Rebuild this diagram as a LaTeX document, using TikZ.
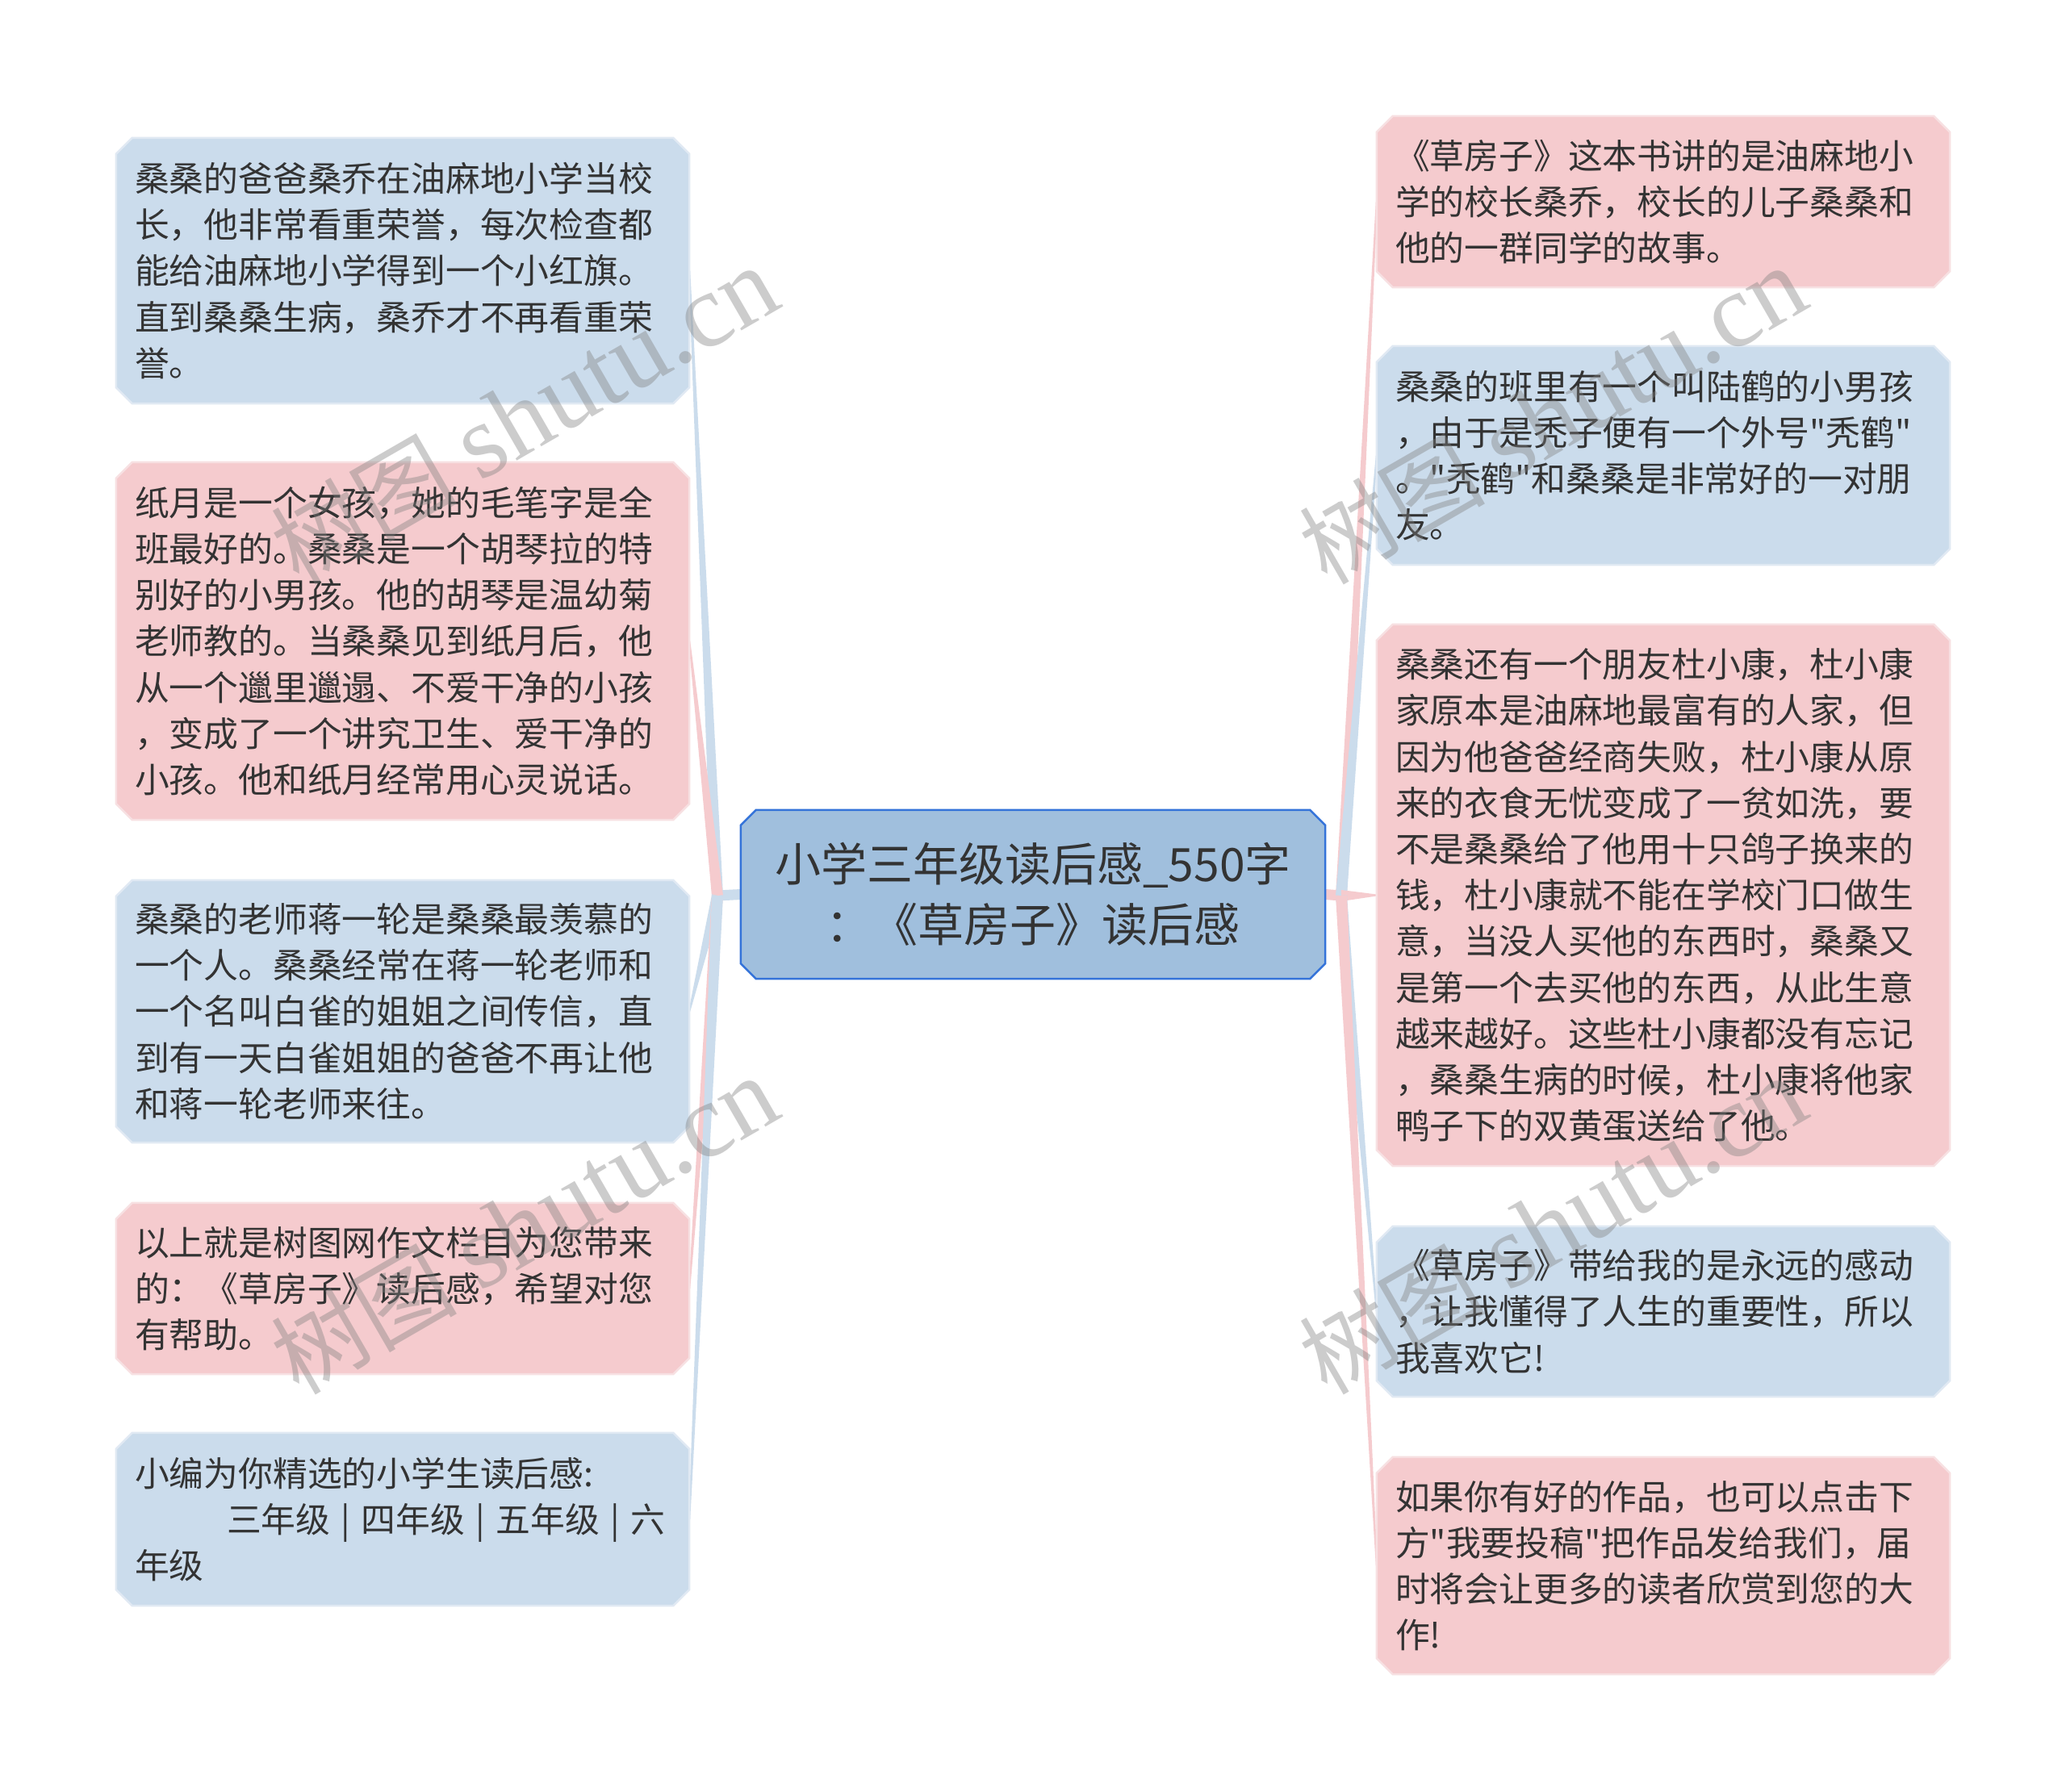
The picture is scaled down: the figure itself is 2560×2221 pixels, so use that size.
\documentclass[tikz,border=0pt]{standalone}
\usepackage{fontspec}
\newfontfamily\cjk{Noto Sans CJK SC}
\newfontfamily\wmserif{Liberation Serif}
\usetikzlibrary{calc}
\definecolor{leafblue}{RGB}{203,220,236}
\definecolor{leafpink}{RGB}{245,203,206}
\definecolor{leafblueline}{RGB}{224,233,243}
\definecolor{leafpinkline}{RGB}{247,224,226}
\definecolor{rootfill}{RGB}{160,191,221}
\definecolor{rootdraw}{RGB}{52,115,217}
\definecolor{txt}{RGB}{51,51,51}
\pgfdeclarelayer{bg}\pgfdeclarelayer{boxes}\pgfdeclarelayer{fg}
\pgfsetlayers{bg,boxes,main,fg}
% chamfered outline: node, chamfer, fill, draw, line width
\newcommand\chbox[5]{%
  \filldraw[fill=#3,draw=#4,line width=#5]
    ($(#1.north west)+(#2,0)$) -- ($(#1.north east)+(-#2,0)$) --
    ($(#1.north east)+(0,#2)$) -- ($(#1.south east)+(0,-#2)$) --
    ($(#1.south east)+(-#2,0)$) -- ($(#1.south west)+(#2,0)$) --
    ($(#1.south west)+(0,-#2)$) -- ($(#1.north west)+(0,#2)$) -- cycle;}
% tapered connector: from, to, colour
\newcommand\taper[3]{%
  \fill[#3] ($(#1)!7pt!90:(#2)$) -- ($(#2)!1pt!-90:(#1)$) --
    ($(#2)!1pt!90:(#1)$) -- ($(#1)!7pt!-90:(#2)$) -- cycle;}
\newcommand\gradesep{\makebox[38.5pt]{|}}
\newcommand\wmtext{{\cjk\fontsize{115pt}{115pt}\selectfont 树图}\hspace{28pt}{\wmserif\fontsize{130pt}{130pt}\selectfont shutu.cn}}
\tikzset{
  leaf/.style={inner xsep=23pt, inner ysep=0pt, text width=664pt, align=left,
    font=\cjk\fontsize{42.8pt}{57.2pt}\selectfont, text=txt},
  root/.style={inner sep=0pt, minimum width=724pt, minimum height=209pt,
    align=center, font=\cjk\fontsize{57pt}{75pt}\selectfont, text=txt},
  wm/.style={rotate=30, text=black!50, opacity=0.4, inner sep=0pt}
}
\begin{document}
\begin{tikzpicture}[x=1pt,y=-1pt]
\useasboundingbox (0,0) rectangle (2560,2221);
\begin{pgfonlayer}{bg}
\fill[white] (0,0) rectangle (2560,2221);
\end{pgfonlayer}

\node[root] (root) at (1280,1108.5) {小学三年级读后感\_550字\\：《草房子》读后感};

\node[leaf, minimum height=329pt] (L1) at (499,335.5) {桑桑的爸爸桑乔在油麻地小学当校\\长，他非常看重荣誉，每次检查都\\能给油麻地小学得到一个小红旗。\\直到桑桑生病，桑乔才不再看重荣\\誉。};
\node[leaf, minimum height=443pt] (L2) at (499,794.5) {纸月是一个女孩，她的毛笔字是全\\班最好的。桑桑是一个胡琴拉的特\\别好的小男孩。他的胡琴是温幼菊\\老师教的。当桑桑见到纸月后，他\\从一个邋里邋遢、不爱干净的小孩\\，变成了一个讲究卫生、爱干净的\\小孩。他和纸月经常用心灵说话。};
\node[leaf, minimum height=325pt] (L3) at (499,1253.5) {桑桑的老师蒋一轮是桑桑最羡慕的\\一个人。桑桑经常在蒋一轮老师和\\一个名叫白雀的姐姐之间传信，直\\到有一天白雀姐姐的爸爸不再让他\\和蒋一轮老师来往。};
\node[leaf, minimum height=212pt] (L4) at (499,1597) {以上就是树图网作文栏目为您带来\\的：《草房子》读后感，希望对您\\有帮助。};
\node[leaf, minimum height=214pt] (L5) at (499,1883) {小编为你精选的小学生读后感:\\\hspace*{114pt}三年级\gradesep 四年级\gradesep 五年级\gradesep 六\\年级};

\node[leaf, minimum height=212pt] (R1) at (2061,250) {《草房子》这本书讲的是油麻地小\\学的校长桑乔，校长的儿子桑桑和\\他的一群同学的故事。};
\node[leaf, minimum height=271pt] (R2) at (2061,564.5) {桑桑的班里有一个叫陆鹤的小男孩\\，由于是秃子便有一个外号"秃鹤"\\。"秃鹤"和桑桑是非常好的一对朋\\友。};
\node[leaf, minimum height=671pt] (R3) at (2061,1109.5) {桑桑还有一个朋友杜小康，杜小康\\家原本是油麻地最富有的人家，但\\因为他爸爸经商失败，杜小康从原\\来的衣食无忧变成了一贫如洗，要\\不是桑桑给了他用十只鸽子换来的\\钱，杜小康就不能在学校门口做生\\意，当没人买他的东西时，桑桑又\\是第一个去买他的东西，从此生意\\越来越好。这些杜小康都没有忘记\\，桑桑生病的时候，杜小康将他家\\鸭子下的双黄蛋送给了他。};
\node[leaf, minimum height=211pt] (R4) at (2061,1625.5) {《草房子》带给我的是永远的感动\\，让我懂得了人生的重要性，所以\\我喜欢它!};
\node[leaf, minimum height=269pt] (R5) at (2061,1940.5) {如果你有好的作品，也可以点击下\\方"我要投稿"把作品发给我们，届\\时将会让更多的读者欣赏到您的大\\作!};

\coordinate (jl) at (889,1110);
\coordinate (jr) at (1662,1110);

\begin{pgfonlayer}{boxes}
\chbox{root}{19}{rootfill}{rootdraw}{2.5pt}
\chbox{L1}{20}{leafblue}{leafblueline}{2.5pt}
\chbox{L2}{20}{leafpink}{leafpinkline}{2.5pt}
\chbox{L3}{20}{leafblue}{leafblueline}{2.5pt}
\chbox{L4}{20}{leafpink}{leafpinkline}{2.5pt}
\chbox{L5}{20}{leafblue}{leafblueline}{2.5pt}
\chbox{R1}{20}{leafpink}{leafpinkline}{2.5pt}
\chbox{R2}{20}{leafblue}{leafblueline}{2.5pt}
\chbox{R3}{20}{leafpink}{leafpinkline}{2.5pt}
\chbox{R4}{20}{leafblue}{leafblueline}{2.5pt}
\chbox{R5}{20}{leafpink}{leafpinkline}{2.5pt}
\end{pgfonlayer}

\begin{pgfonlayer}{bg}
\draw[leafblue, line width=13pt] (root.west) -- (jl);
\draw[leafpink, line width=13pt] (root.east) -- (jr);
\taper{jl}{L1.east}{leafblue}
\taper{jl}{L2.east}{leafpink}
\taper{jl}{L3.east}{leafblue}
\taper{jl}{L4.east}{leafpink}
\taper{jl}{L5.east}{leafblue}
\taper{jr}{R1.west}{leafpink}
\taper{jr}{R2.west}{leafblue}
\taper{jr}{R3.west}{leafpink}
\taper{jr}{R4.west}{leafblue}
\taper{jr}{R5.west}{leafpink}
\end{pgfonlayer}

\begin{pgfonlayer}{fg}
\node[wm] (wm1) at (650,515) {\wmtext};
\node[wm] (wm2) at (1924,515) {\wmtext};
\node[wm] (wm3) at (650,1519) {\wmtext};
\node[wm] (wm4) at (1924,1519) {\wmtext};
\end{pgfonlayer}
\end{tikzpicture}
\end{document}
